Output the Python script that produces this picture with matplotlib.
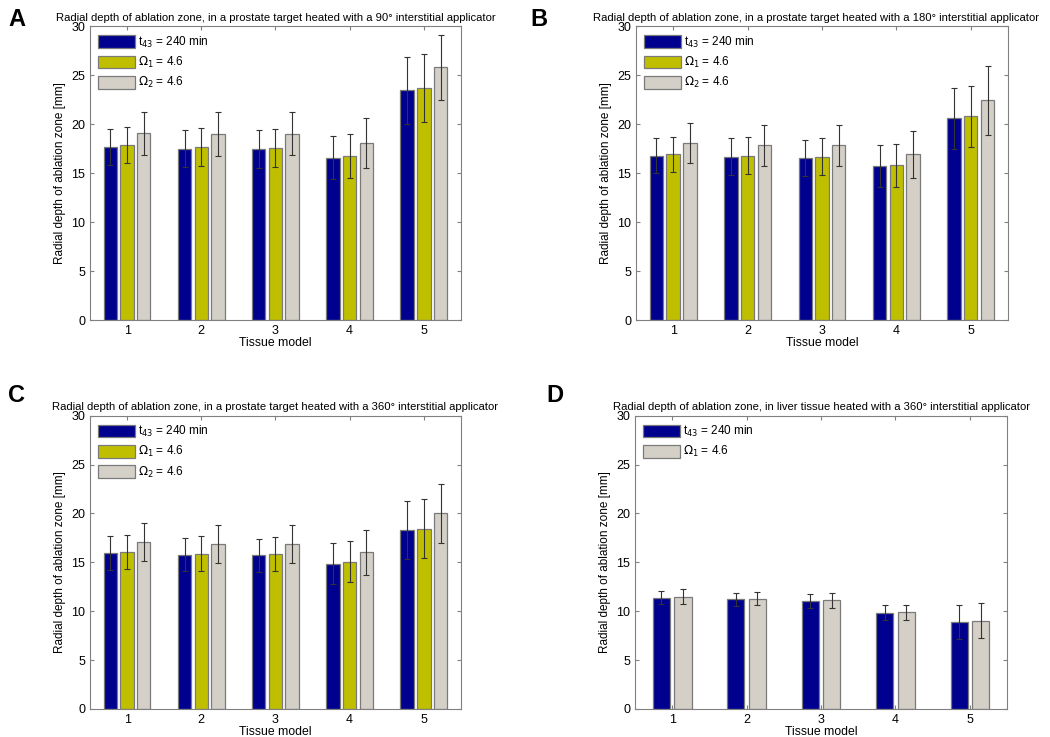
import matplotlib.pyplot as plt
import numpy as np

plt.rcParams['font.family'] = ['Liberation Sans', 'DejaVu Sans']

models = [1, 2, 3, 4, 5]

# panel A: 90 deg applicator, prostate
a_t43 = [17.7, 17.5, 17.45, 16.6, 23.45]
a_om1 = [17.85, 17.7, 17.6, 16.75, 23.7]
a_om2 = [19.1, 19.0, 19.05, 18.05, 25.8]
a_t43_err = [1.85, 1.9, 1.95, 2.2, 3.45]
a_om1_err = [1.85, 1.95, 1.95, 2.25, 3.45]
a_om2_err = [2.2, 2.2, 2.2, 2.55, 3.3]

# panel B: 180 deg applicator, prostate
b_t43 = [16.8, 16.7, 16.55, 15.7, 20.6]
b_om1 = [16.95, 16.8, 16.7, 15.8, 20.8]
b_om2 = [18.05, 17.85, 17.85, 16.95, 22.45]
b_t43_err = [1.8, 1.85, 1.85, 2.15, 3.15]
b_om1_err = [1.8, 1.85, 1.85, 2.2, 3.15]
b_om2_err = [2.05, 2.1, 2.1, 2.4, 3.5]

# panel C: 360 deg applicator, prostate
c_t43 = [15.95, 15.8, 15.7, 14.85, 18.3]
c_om1 = [16.05, 15.9, 15.85, 15.05, 18.45]
c_om2 = [17.05, 16.9, 16.9, 16.05, 20.0]
c_t43_err = [1.75, 1.7, 1.7, 2.1, 2.95]
c_om1_err = [1.75, 1.75, 1.75, 2.1, 3.0]
c_om2_err = [1.95, 1.95, 1.95, 2.3, 3.05]

# panel D: 360 deg applicator, liver
d_t43 = [11.4, 11.2, 11.05, 9.85, 8.9]
d_om1 = [11.5, 11.3, 11.1, 9.9, 9.05]
d_t43_err = [0.7, 0.65, 0.7, 0.75, 1.75]
d_om1_err = [0.75, 0.7, 0.75, 0.75, 1.8]

blue = '#00008F'
yellow = '#BFBF00'
gray = '#D4D0C8'

lab_t43 = 't$_{43}$ = 240 min'
lab_om1 = '$\\Omega_1$ = 4.6'
lab_om2 = '$\\Omega_2$ = 4.6'

fig = plt.figure(figsize=(10.5, 7.37), dpi=100)


def panel(rect, title, series, offsets, width, title_x=0.5):
    ax = fig.add_axes(rect)
    x = np.array(models, dtype=float)
    for (vals, errs, col, lab), off in zip(series, offsets):
        ax.bar(x + off, vals, width, color=col, edgecolor='#7a7a7a',
               linewidth=0.9, label=lab, zorder=2)
        ax.errorbar(x + off, vals, yerr=errs, fmt='none', ecolor='#333333',
                    elinewidth=0.8, capsize=2.5, capthick=0.8, zorder=3)
    ax.set_xlim(0.5, 5.5)
    ax.set_ylim(0, 30)
    ax.set_xticks(models)
    ax.set_yticks(range(0, 31, 5))
    ax.tick_params(direction='in', top=True, right=True, labelsize=9,
                   length=3, color='#808080', width=0.8, pad=3.5)
    for s in ax.spines.values():
        s.set_color('#808080')
    ax.set_xlabel('Tissue model', fontsize=8.8, labelpad=0)
    ax.set_ylabel('Radial depth of ablation zone [mm]', fontsize=8.5)
    ax.set_title(title, fontsize=8.15, pad=4, x=title_x)
    ax.legend(loc='upper left', frameon=False, fontsize=8.5,
              handlelength=3.1, handleheight=1.3, handletextpad=0.3,
              labelspacing=0.45, borderaxespad=0.4, borderpad=0.3)
    return ax


w3 = 0.18
off3 = [-0.225, 0, 0.225]
panel([0.0857, 0.5654, 0.3533, 0.399],
      'Radial depth of ablation zone, in a prostate target heated with a 90\u00b0 interstitial applicator',
      [(a_t43, a_t43_err, blue, lab_t43), (a_om1, a_om1_err, yellow, lab_om1),
       (a_om2, a_om2_err, gray, lab_om2)], off3, w3)
panel([0.6057, 0.5654, 0.3543, 0.399],
      'Radial depth of ablation zone, in a prostate target heated with a 180\u00b0 interstitial applicator',
      [(b_t43, b_t43_err, blue, lab_t43), (b_om1, b_om1_err, yellow, lab_om1),
       (b_om2, b_om2_err, gray, lab_om2)], off3, w3, title_x=0.484)
panel([0.0857, 0.038, 0.3533, 0.398],
      'Radial depth of ablation zone, in a prostate target heated with a 360\u00b0 interstitial applicator',
      [(c_t43, c_t43_err, blue, lab_t43), (c_om1, c_om1_err, yellow, lab_om1),
       (c_om2, c_om2_err, gray, lab_om2)], off3, w3)
panel([0.6048, 0.038, 0.3543, 0.398],
      'Radial depth of ablation zone, in liver tissue heated with a 360\u00b0 interstitial applicator',
      [(d_t43, d_t43_err, blue, lab_t43), (d_om1, d_om1_err, gray, lab_om1)],
      [-0.145, 0.145], 0.23)

for letter, xf, yf in [('A', 0.008, 0.965), ('B', 0.505, 0.965),
                       ('C', 0.008, 0.455), ('D', 0.52, 0.455)]:
    fig.text(xf, yf, letter, fontsize=17, fontweight='bold')

fig.savefig('out.png', dpi=100)
